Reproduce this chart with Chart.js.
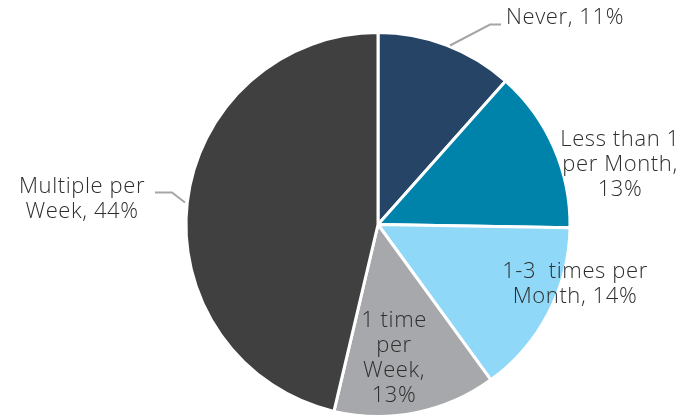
<!DOCTYPE html>
<html>
<head>
<meta charset="utf-8">
<script src="https://cdn.jsdelivr.net/npm/chart.js@4.4.1/dist/chart.umd.min.js"></script>
<style>
  html, body { margin: 0; padding: 0; background: #fff; }
  #wrap { width: 696px; height: 418px; position: relative; }
</style>
</head>
<body>
<div id="wrap"><canvas id="pie"></canvas></div>
<script>
const categories = ['Never', 'Less than 1 per Month', '1-3  times per Month', '1 time per Week', 'Multiple per Week'];
const shares = [11, 13, 14, 13, 44];
const labelLines = [
  ['Never, 11%'],
  ['Less than 1', 'per Month,', '13%'],
  ['1-3  times per', 'Month, 14%'],
  ['1 time', 'per', 'Week,', '13%'],
  ['Multiple per', 'Week, 44%']
];
const colors = ['#264466', '#0083ab', '#8fd8f7', '#a7a8ab', '#404040'];

// label placement, offsets from the pie centre
const labelOffsets = [[187, -207], [242, -60], [197, 60], [16, 134], [-296, -25]];
const leaders = {
  0: [[72, -179], [112, -200], [123, -200]],
  4: [[-193, -22], [-206, -32], [-223, -32]]
};

const labelPlugin = {
  id: 'sliceLabels',
  afterDatasetsDraw(chart) {
    const ctx = chart.ctx;
    const arc = chart.getDatasetMeta(0).data[0];
    const cx = arc.x, cy = arc.y;
    ctx.save();
    ctx.strokeStyle = '#a6a6a6';
    ctx.lineWidth = 2;
    Object.keys(leaders).forEach(k => {
      const pts = leaders[k];
      ctx.beginPath();
      pts.forEach((p, i) => {
        if (i === 0) ctx.moveTo(cx + p[0], cy + p[1]);
        else ctx.lineTo(cx + p[0], cy + p[1]);
      });
      ctx.stroke();
    });
    ctx.fillStyle = '#2e2e2e';
    ctx.font = '300 22px "Open Sans", sans-serif';
    ctx.letterSpacing = '0.6px';
    ctx.textAlign = 'center';
    ctx.textBaseline = 'middle';
    const lh = 25;
    labelLines.forEach((lines, i) => {
      const [ox, oy] = labelOffsets[i];
      const top = cy + oy - (lines.length - 1) * lh / 2;
      lines.forEach((t, j) => ctx.fillText(t, cx + ox, top + j * lh));
    });
    ctx.restore();
  }
};

new Chart(document.getElementById('pie'), {
  type: 'pie',
  data: {
    labels: categories,
    datasets: [{
      data: shares,
      backgroundColor: colors,
      borderColor: '#ffffff',
      borderWidth: 3
    }]
  },
  options: {
    responsive: true,
    maintainAspectRatio: false,
    animation: false,
    layout: { padding: { left: 184, right: 124, top: 31, bottom: 0 } },
    plugins: {
      legend: { display: false },
      tooltip: { enabled: false }
    }
  },
  plugins: [labelPlugin]
});
</script>
</body>
</html>
